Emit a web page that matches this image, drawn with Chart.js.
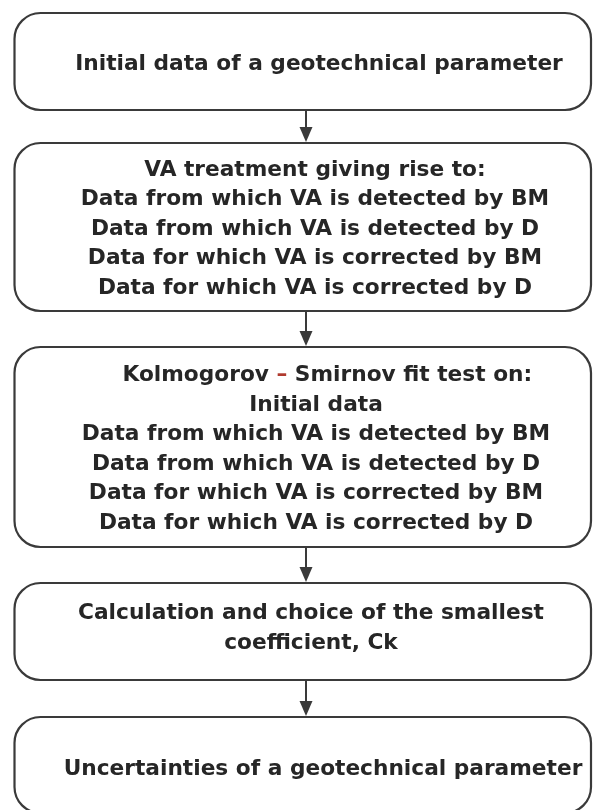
<!DOCTYPE html>
<html>
<head>
<meta charset="utf-8">
<script src="https://cdn.jsdelivr.net/npm/chart.js@4.4.0/dist/chart.umd.min.js"></script>
<style>
  html, body { margin: 0; padding: 0; background: #fff; }
  canvas { display: block; }
</style>
</head>
<body>
<canvas id="flowChart" width="593" height="810"></canvas>
<script>
// Flowchart steps (text of each box, one entry per line)
const step1 = ['Initial data of a geotechnical parameter'];
const step2 = [
    'VA treatment giving rise to:',
    'Data from which VA is detected by BM',
    'Data from which VA is detected by D',
    'Data for which VA is corrected by BM',
    'Data for which VA is corrected by D'
];
const step3 = [
    '   Kolmogorov \u2013 Smirnov fit test on:',
    'Initial data',
    'Data from which VA is detected by BM',
    'Data from which VA is detected by D',
    'Data for which VA is corrected by BM',
    'Data for which VA is corrected by D'
];
const step4 = ['Calculation and choice of the smallest', 'coefficient, Ck'];
const step5 = ['Uncertainties of a geotechnical parameter'];
const steps = [step1, step2, step3, step4, step5];

// Layout (axis units = pixels of the 593x810 page)
const boxTop = [13, 143, 347, 583, 717];
const boxBottom = [110, 311, 547, 680, 813];
const textMid = [62, 227, 447, 626, 767];
const textX = [319, 315, 316, 311, 323];
const boxLeft = 14.5, boxRight = 591, boxRadius = 26;
const arrowX = 306;
const fontSize = 21.7, lineGap = 29.5;

const lineColor = '#3a3a3a';
const textColor = '#262626';

// Arrow shafts between consecutive boxes
const arrowSets = [];
for (let i = 0; i < steps.length - 1; i++) {
    arrowSets.push({
        type: 'line',
        data: [{ x: arrowX, y: boxBottom[i] }, { x: arrowX, y: boxTop[i + 1] - 12 }],
        borderColor: lineColor,
        borderWidth: 2,
        pointRadius: 0
    });
}

const flowPlugin = {
    id: 'flowPlugin',
    beforeDatasetsDraw(chart) {
        const { ctx, scales: { x, y } } = chart;
        ctx.save();
        ctx.fillStyle = '#fff';
        ctx.fillRect(0, 0, chart.width, chart.height);
        ctx.strokeStyle = lineColor;
        ctx.lineWidth = 2.2;
        steps.forEach((s, i) => {
            const l = x.getPixelForValue(boxLeft), r = x.getPixelForValue(boxRight);
            const t = y.getPixelForValue(boxTop[i]), b = y.getPixelForValue(boxBottom[i]);
            ctx.beginPath();
            ctx.roundRect(l, t, r - l, b - t, boxRadius);
            ctx.stroke();
        });
        ctx.restore();
    },
    afterDatasetsDraw(chart) {
        const { ctx, scales: { x, y } } = chart;
        ctx.save();
        // arrow heads
        ctx.fillStyle = lineColor;
        for (let i = 1; i < steps.length; i++) {
            const tip = y.getPixelForValue(boxTop[i]) - 1;
            const cx = x.getPixelForValue(arrowX);
            ctx.beginPath();
            ctx.moveTo(cx - 6.5, tip - 15);
            ctx.lineTo(cx + 6.5, tip - 15);
            ctx.lineTo(cx, tip);
            ctx.closePath();
            ctx.fill();
        }
        // box texts
        ctx.font = `bold ${fontSize}px "DejaVu Sans"`;
        ctx.textBaseline = 'alphabetic';
        const capHalf = fontSize * 0.729 / 2;
        steps.forEach((lines, i) => {
            const cx = x.getPixelForValue(textX[i]);
            const mid = y.getPixelForValue(textMid[i]);
            const first = mid - (lines.length - 1) * lineGap / 2;
            lines.forEach((line, j) => {
                const base = first + j * lineGap + capHalf;
                const dash = line.indexOf('\u2013');
                if (dash < 0) {
                    ctx.textAlign = 'center';
                    ctx.fillStyle = textColor;
                    ctx.fillText(line, cx, base);
                } else {
                    const parts = [line.slice(0, dash), '\u2013', line.slice(dash + 1)];
                    const total = parts.reduce((a, p) => a + ctx.measureText(p).width, 0);
                    let px = cx - total / 2;
                    ctx.textAlign = 'left';
                    parts.forEach((p, k) => {
                        ctx.fillStyle = k === 1 ? '#b03a2e' : textColor;
                        ctx.fillText(p, px, base);
                        px += ctx.measureText(p).width;
                    });
                }
            });
        });
        ctx.restore();
    }
};

new Chart(document.getElementById('flowChart'), {
    type: 'scatter',
    data: { datasets: arrowSets },
    options: {
        responsive: false,
        animation: false,
        devicePixelRatio: 1,
        layout: { padding: 0 },
        scales: {
            x: { type: 'linear', min: 0, max: 593, display: false },
            y: { type: 'linear', min: 0, max: 810, reverse: true, display: false }
        },
        plugins: { legend: { display: false }, tooltip: { enabled: false } }
    },
    plugins: [flowPlugin]
});
</script>
</body>
</html>
